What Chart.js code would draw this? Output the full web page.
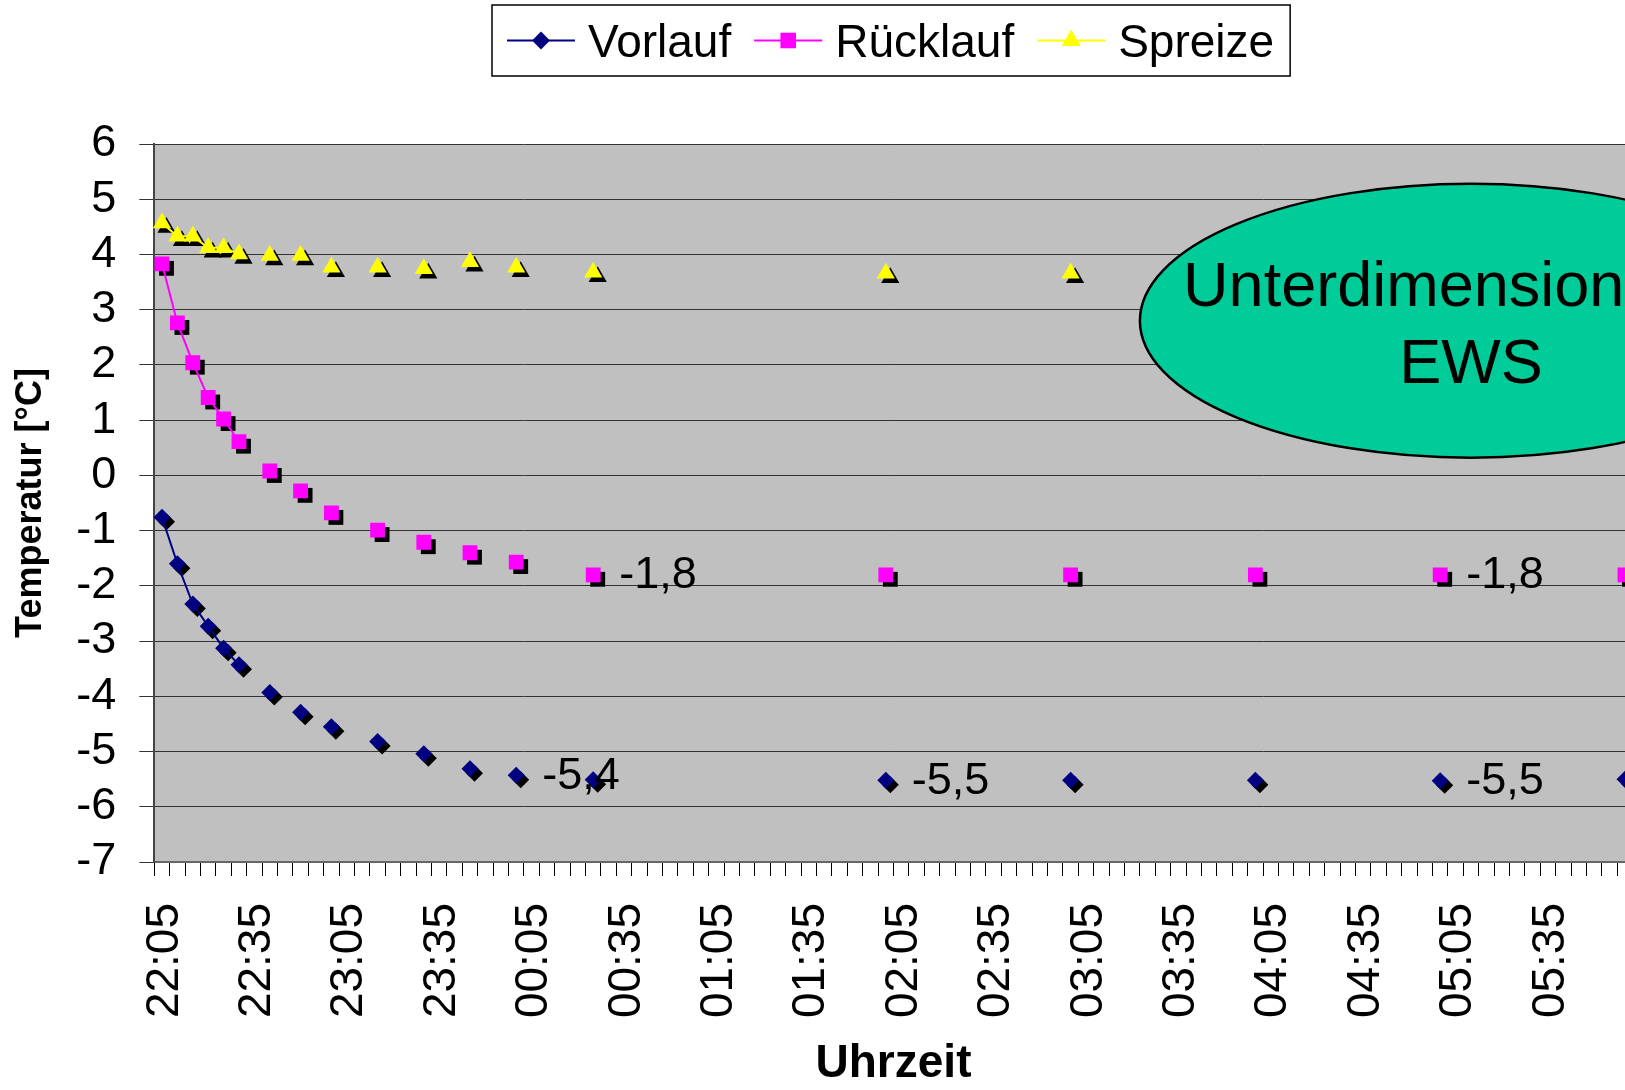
<!DOCTYPE html>
<html>
<head>
<meta charset="utf-8">
<script src="https://cdn.jsdelivr.net/npm/chart.js@4.4.0/dist/chart.umd.min.js"></script>
<style>
  html, body { margin:0; padding:0; background:#fff; overflow:hidden; }
  #wrap { width:1625px; height:1090px; overflow:hidden; }
</style>
</head>
<body>
<div id="wrap"><canvas id="chart" width="1680" height="1090" style="width:1680px;height:1090px"></canvas></div>
<script>
// x-Achse: 5-Minuten-Raster
const zeitachse = [
  '22:05','22:10','22:15','22:20','22:25','22:30','22:35','22:40','22:45','22:50','22:55',
  '23:00','23:05','23:10','23:15','23:20','23:25','23:30','23:35','23:40','23:45','23:50','23:55',
  '00:00','00:05','00:10','00:15','00:20','00:25','00:30','00:35','00:40','00:45','00:50','00:55',
  '01:00','01:05','01:10','01:15','01:20','01:25','01:30','01:35','01:40','01:45','01:50','01:55',
  '02:00','02:05','02:10','02:15','02:20','02:25','02:30','02:35','02:40','02:45','02:50','02:55',
  '03:00','03:05','03:10','03:15','03:20','03:25','03:30','03:35','03:40','03:45','03:50','03:55',
  '04:00','04:05','04:10','04:15','04:20','04:25','04:30','04:35','04:40','04:45','04:50','04:55',
  '05:00','05:05','05:10','05:15','05:20','05:25','05:30','05:35','05:40','05:45','05:50','05:55',
  '06:00'
];
const tickLabels = ['22:05','22:35','23:05','23:35','00:05','00:35','01:05','01:35',
                    '02:05','02:35','03:05','03:35','04:05','04:35','05:05','05:35'];

// Messwerte
const messZeit  = ['22:05','22:10','22:15','22:20','22:25','22:30','22:40','22:50','23:00','23:15',
                   '23:30','23:45','00:00','00:25','02:00','03:00','04:00','05:00','06:00'];
const vorlauf   = [-0.76,-1.60,-2.33,-2.73,-3.13,-3.43,-3.93,-4.29,-4.55,-4.82,
                   -5.04,-5.31,-5.43,-5.51,-5.52,-5.52,-5.52,-5.53,-5.50];
const ruecklauf = [3.83,2.76,2.04,1.41,1.02,0.61,0.08,-0.28,-0.68,-0.99,
                   -1.21,-1.40,-1.57,-1.80,-1.80,-1.80,-1.80,-1.80,-1.80];
const spreize   = [4.57,4.33,4.33,4.12,4.12,4.01,3.98,3.98,3.77,3.77,
                   3.74,3.87,3.77,3.68,3.66,3.66,3.70,3.70,3.70];

// Punkte mit Wertbeschriftung
const vorlaufMarken   = ['00:00','02:00','05:00'];
const ruecklaufMarken = ['00:25','05:00'];

const FONT = "'Liberation Sans', Arial, sans-serif";
Chart.defaults.font.family = FONT;
Chart.defaults.color = '#000';

function reihe(werte) {
  return zeitachse.map(t => {
    const i = messZeit.indexOf(t);
    return i < 0 ? null : werte[i];
  });
}

function marker(ctx, style, x, y, r) {
  ctx.beginPath();
  if (style === 'rectRot') {
    ctx.moveTo(x - r, y); ctx.lineTo(x, y - r); ctx.lineTo(x + r, y); ctx.lineTo(x, y + r);
  } else if (style === 'rect') {
    const s = r * Math.SQRT1_2;
    ctx.rect(x - s, y - s, 2 * s, 2 * s);
  } else {
    ctx.moveTo(x, y - r); ctx.lineTo(x + 0.866 * r, y + 0.5 * r); ctx.lineTo(x - 0.866 * r, y + 0.5 * r);
  }
  ctx.closePath();
  ctx.fill();
}

// grauer Plot-Hintergrund
const hintergrund = {
  id: 'hintergrund',
  beforeDraw(chart) {
    const {ctx, chartArea: a} = chart;
    ctx.save();
    ctx.fillStyle = '#C0C0C0';
    ctx.fillRect(a.left, a.top, a.right - a.left, a.bottom - a.top);
    ctx.restore();
  }
};

// schwarzer Schatten unter den Markern
const schatten = {
  id: 'schatten',
  beforeDatasetDraw(chart, args) {
    const ds = chart.data.datasets[args.index];
    const ctx = chart.ctx;
    ctx.save();
    ctx.fillStyle = '#000';
    args.meta.data.forEach(el => {
      if (el.skip) return;
      marker(ctx, ds.pointStyle, el.x + 4.5, el.y + 4.5, ds.pointRadius);
    });
    ctx.restore();
  }
};

// Wertbeschriftungen
const werte = {
  id: 'werte',
  afterDatasetsDraw(chart) {
    const ctx = chart.ctx;
    ctx.save();
    ctx.font = '45px ' + FONT;
    ctx.fillStyle = '#000';
    ctx.textAlign = 'left';
    ctx.textBaseline = 'middle';
    chart.data.datasets.forEach((ds, di) => {
      const meta = chart.getDatasetMeta(di);
      (ds.marken || []).forEach(t => {
        const i = zeitachse.indexOf(t);
        const el = meta.data[i];
        ctx.fillText(ds.data[i].toFixed(1).replace('.', ','), el.x + 26, el.y + 1);
      });
    });
    ctx.restore();
  }
};

// Ellipse "Unterdimensionierte EWS" und Legende
const extras = {
  id: 'extras',
  afterDraw(chart) {
    const ctx = chart.ctx;
    const xs = chart.scales.x, ys = chart.scales.y;
    const cx = xs.getPixelForValue(85), cy = ys.getPixelForValue(2.8);
    const rx = xs.getPixelForValue(85) - xs.getPixelForValue(63.5);
    const ry = ys.getPixelForValue(2.8) - ys.getPixelForValue(5.28);
    ctx.save();
    ctx.beginPath();
    ctx.ellipse(cx, cy, rx, ry, 0, 0, Math.PI * 2);
    ctx.fillStyle = '#00CC99';
    ctx.fill();
    ctx.lineWidth = 2.5;
    ctx.strokeStyle = '#000';
    ctx.stroke();
    ctx.fillStyle = '#000';
    ctx.font = '63px ' + FONT;
    ctx.textAlign = 'center';
    ctx.textBaseline = 'alphabetic';
    ctx.fillText('Unterdimensionierte', cx - 6, cy - 15);
    ctx.fillText('EWS', cx, cy + 62);
    ctx.restore();

    // Legende
    const a = chart.chartArea;
    ctx.save();
    ctx.font = '46px ' + FONT;
    const items = chart.data.datasets.map(ds => ({ds, w: ctx.measureText(ds.label).width}));
    const lineW = 68, gapT = 13, gapI = 23, padL = 15, padR = 16;
    let total = padL + padR + gapI * (items.length - 1);
    items.forEach(it => total += lineW + gapT + it.w);
    const bx = Math.round((a.left + a.right) / 2 - total / 2) - 2, by = 5, bh = 71;
    ctx.fillStyle = '#fff';
    ctx.fillRect(bx, by, total, bh);
    ctx.strokeStyle = '#000';
    ctx.lineWidth = 1.5;
    ctx.strokeRect(bx, by, total, bh);
    const my = by + bh / 2;
    let x = bx + padL;
    items.forEach(it => {
      ctx.strokeStyle = it.ds.borderColor;
      ctx.lineWidth = 2;
      ctx.beginPath();
      ctx.moveTo(x, my); ctx.lineTo(x + lineW, my);
      ctx.stroke();
      ctx.fillStyle = it.ds.borderColor;
      marker(ctx, it.ds.pointStyle, x + lineW / 2, my, it.ds.pointRadius * 1.05);
      x += lineW + gapT;
      ctx.fillStyle = '#000';
      ctx.textBaseline = 'alphabetic';
      ctx.fillText(it.ds.label, x, my + 16);
      x += it.w + gapI;
    });
    ctx.restore();
  }
};

new Chart(document.getElementById('chart').getContext('2d'), {
  type: 'line',
  data: {
    labels: zeitachse,
    datasets: [
      { label: 'Vorlauf', data: reihe(vorlauf), marken: vorlaufMarken,
        borderColor: '#000080', backgroundColor: '#000080', borderWidth: 2,
        pointStyle: 'rectRot', pointRadius: 8.5, pointBorderWidth: 0 },
      { label: 'Rücklauf', data: reihe(ruecklauf), marken: ruecklaufMarken,
        borderColor: '#FF00FF', backgroundColor: '#FF00FF', borderWidth: 2,
        pointStyle: 'rect', pointRadius: 10.5, pointBorderWidth: 0 },
      { label: 'Spreize', data: reihe(spreize),
        borderColor: '#FFFF00', backgroundColor: '#FFFF00', borderWidth: 2,
        pointStyle: 'triangle', pointRadius: 10.5, pointBorderWidth: 0 }
    ]
  },
  options: {
    responsive: false,
    animation: false,
    devicePixelRatio: 1,
    events: [],
    spanGaps: false,
    layout: { padding: { top: 144, right: 47.3, left: 0, bottom: 0 } },
    plugins: { legend: { display: false }, tooltip: { enabled: false } },
    scales: {
      x: {
        offset: true,
        grid: { offset: true, drawOnChartArea: false, drawTicks: true, tickLength: 14, tickColor: '#000', tickWidth: 1 },
        border: { color: '#666', width: 2 },
        ticks: {
          autoSkip: false, minRotation: 90, maxRotation: 90, padding: 27, labelOffset: 3,
          font: { size: 46 }, color: '#000',
          callback: function (v) {
            const l = this.getLabelForValue(v);
            return tickLabels.includes(l) ? l : '';
          }
        },
        title: { display: true, text: 'Uhrzeit', font: { size: 46, weight: 'bold', lineHeight: 1.1 }, padding: 0, color: '#000' },
        afterFit(s) { s.height = 228; s.paddingLeft = 0; s.paddingRight = 0; }
      },
      y: {
        min: -7, max: 6,
        grid: { color: '#333', lineWidth: 1, tickLength: 15, tickColor: '#333' },
        border: { color: '#444', width: 2 },
        ticks: { stepSize: 1, autoSkip: false, padding: 23, font: { size: 45 }, color: '#000' },
        title: { display: true, text: 'Temperatur [°C]', font: { size: 36, weight: 'bold' }, padding: { top: 9, bottom: 0 }, color: '#000' },
        afterFit(s) { s.width = 154.3; s.paddingTop = 0; s.paddingBottom = 0; }
      }
    }
  },
  plugins: [hintergrund, schatten, werte, extras]
});
</script>
</body>
</html>
